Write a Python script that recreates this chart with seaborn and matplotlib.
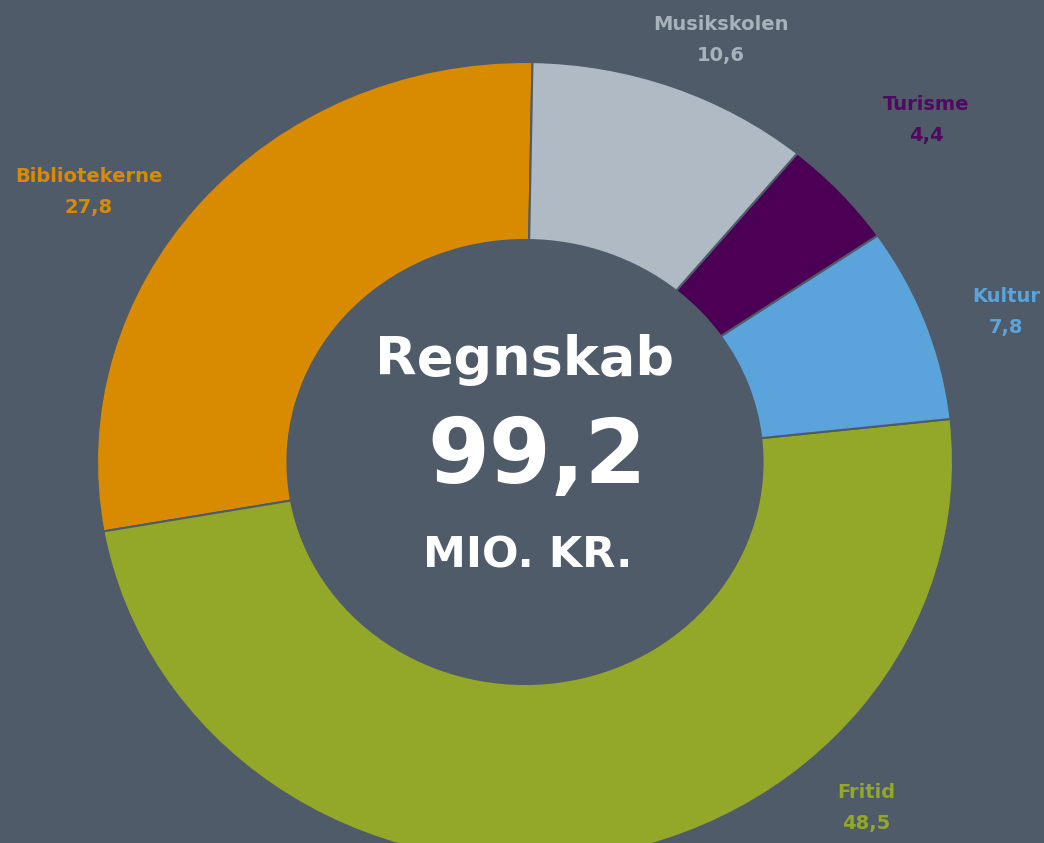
import matplotlib
matplotlib.use("Agg")
import matplotlib.pyplot as plt
import seaborn as sns

categories = ["Bibliotekerne", "Fritid", "Kultur", "Turisme", "Musikskolen"]
values = [27.8, 48.5, 7.8, 4.4, 10.6]
value_labels = ["27,8", "48,5", "7,8", "4,4", "10,6"]
colors = ["#D98B00", "#93A828", "#5BA3DB", "#4B0055", "#B0BAC4"]
label_colors = ["#D98B00", "#93A828", "#5BA3DB", "#4E0A5E", "#A8B2BD"]
total_text = "99,2"

BG = "#4F5B69"
W, H = 1044, 843

sns.set_theme(style="white")
plt.rcParams['font.family'] = ['DejaVu Sans']

fig = plt.figure(figsize=(W / 100, H / 100), dpi=100, facecolor=BG)
ax = fig.add_axes([0, 0, 1, 1])
ax.set_facecolor(BG)

wedges, _ = ax.pie(values, colors=colors, startangle=89, counterclock=True,
                   radius=1.0, wedgeprops=dict(width=0.445, edgecolor=BG, linewidth=1.5))

# pixel geometry: center (525, 462), rx=428, ry=400
cx, cy, rx, ry = 525, 462, 428, 400
ax.set_aspect('auto')
ax.set_xlim(-cx / rx, (W - cx) / rx)
ax.set_ylim(-(H - cy) / ry, cy / ry)
ax.axis('off')

def px(x, y):
    return x / W, 1 - y / H

label_pos = {
    "Bibliotekerne": (89, 176),
    "Fritid": (866, 793),
    "Kultur": (1006, 296),
    "Turisme": (926, 104),
    "Musikskolen": (721, 25),
}
for cat, val, col in zip(categories, value_labels, label_colors):
    x, y = label_pos[cat]
    fig.text(*px(x, y), cat, color=col, fontsize=14, fontweight='bold',
             ha='center', va='center')
    fig.text(*px(x, y + 31), val, color=col, fontsize=14, fontweight='bold',
             ha='center', va='center')

fig.text(*px(525, 360), "Regnskab", color="white", fontsize=39, fontweight='bold',
         ha='center', va='center')
fig.text(*px(537, 458), total_text, color="white", fontsize=64, fontweight='bold',
         ha='center', va='center')
fig.text(*px(528, 555), "MIO. KR.", color="white", fontsize=31, fontweight='bold',
         ha='center', va='center')

fig.savefig("out.png", dpi=100, facecolor=BG)
